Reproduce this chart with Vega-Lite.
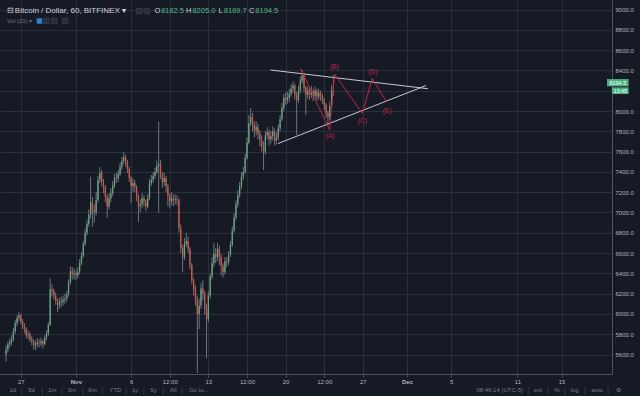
{
"$schema":"https://vega.github.io/schema/vega-lite/v6.json",
"width":612,"height":374,
"autosize":{"type":"none"},
"padding":{"left":0,"top":0,"right":28,"bottom":22},
"background":"#161a25",
"config":{"view":{"stroke":null},"font":"Liberation Sans"},
"resolve":{"axis":{"y":"independent"}},
"datasets":{
"candles":[
{"t":16,"o":5600,"h":5690,"l":5530,"c":5650},{"t":20,"o":5650,"h":5730,"l":5620,"c":5700},{"t":24,"o":5700,"h":5760,"l":5670,"c":5720},{"t":28,"o":5720,"h":5790,"l":5690,"c":5750},{"t":32,"o":5750,"h":5860,"l":5730,"c":5830},{"t":36,"o":5830,"h":5940,"l":5800,"c":5910},{"t":40,"o":5910,"h":5990,"l":5880,"c":5960},{"t":44,"o":5960,"h":6022,"l":5930,"c":5985},{"t":48,"o":5985,"h":6000,"l":5900,"c":5930},{"t":52,"o":5930,"h":5950,"l":5850,"c":5885},
{"t":56,"o":5885,"h":5910,"l":5810,"c":5855},{"t":60,"o":5855,"h":5870,"l":5760,"c":5790},{"t":64,"o":5790,"h":5840,"l":5750,"c":5800},{"t":68,"o":5800,"h":5820,"l":5720,"c":5750},{"t":72,"o":5750,"h":5780,"l":5690,"c":5725},{"t":76,"o":5725,"h":5750,"l":5650,"c":5690},{"t":80,"o":5690,"h":5740,"l":5644,"c":5700},{"t":84,"o":5700,"h":5760,"l":5670,"c":5715},{"t":88,"o":5715,"h":5750,"l":5670,"c":5710},{"t":92,"o":5710,"h":5770,"l":5680,"c":5730},
{"t":96,"o":5730,"h":5750,"l":5660,"c":5700},{"t":100,"o":5700,"h":5790,"l":5690,"c":5765},{"t":104,"o":5765,"h":5840,"l":5740,"c":5805},{"t":108,"o":5805,"h":5920,"l":5780,"c":5890},{"t":112,"o":5890,"h":6351,"l":5880,"c":6240},{"t":116,"o":6240,"h":6290,"l":6170,"c":6225},{"t":120,"o":6225,"h":6250,"l":6140,"c":6185},{"t":124,"o":6185,"h":6210,"l":6090,"c":6130},{"t":128,"o":6130,"h":6150,"l":6019,"c":6090},{"t":132,"o":6090,"h":6160,"l":6050,"c":6110},
{"t":136,"o":6110,"h":6170,"l":6070,"c":6120},{"t":140,"o":6120,"h":6180,"l":6080,"c":6140},{"t":144,"o":6140,"h":6200,"l":6100,"c":6150},{"t":148,"o":6150,"h":6230,"l":6120,"c":6190},{"t":152,"o":6190,"h":6340,"l":6170,"c":6310},{"t":156,"o":6310,"h":6470,"l":6290,"c":6420},{"t":160,"o":6420,"h":6460,"l":6340,"c":6390},{"t":164,"o":6390,"h":6450,"l":6340,"c":6400},{"t":168,"o":6400,"h":6430,"l":6330,"c":6380},{"t":172,"o":6380,"h":6460,"l":6350,"c":6410},
{"t":176,"o":6410,"h":6540,"l":6390,"c":6500},{"t":180,"o":6500,"h":6610,"l":6480,"c":6570},{"t":184,"o":6570,"h":6720,"l":6550,"c":6690},{"t":188,"o":6690,"h":6840,"l":6670,"c":6800},{"t":192,"o":6800,"h":6930,"l":6770,"c":6890},{"t":196,"o":6890,"h":7030,"l":6860,"c":6980},{"t":200,"o":6980,"h":7352,"l":6940,"c":7100},{"t":204,"o":7100,"h":7150,"l":6860,"c":7020},{"t":208,"o":7020,"h":7080,"l":6900,"c":7000},{"t":212,"o":7000,"h":7200,"l":6970,"c":7120},
{"t":216,"o":7120,"h":7360,"l":7100,"c":7320},{"t":220,"o":7320,"h":7448,"l":7290,"c":7390},{"t":224,"o":7390,"h":7420,"l":7260,"c":7300},{"t":228,"o":7300,"h":7330,"l":7190,"c":7245},{"t":232,"o":7245,"h":7270,"l":7100,"c":7150},{"t":236,"o":7150,"h":7180,"l":6945,"c":7060},{"t":240,"o":7060,"h":7190,"l":7030,"c":7140},{"t":244,"o":7140,"h":7240,"l":7100,"c":7190},{"t":248,"o":7190,"h":7310,"l":7160,"c":7270},{"t":252,"o":7270,"h":7380,"l":7240,"c":7340},
{"t":256,"o":7340,"h":7390,"l":7290,"c":7335},{"t":260,"o":7335,"h":7420,"l":7300,"c":7380},{"t":264,"o":7380,"h":7490,"l":7360,"c":7450},{"t":268,"o":7450,"h":7550,"l":7420,"c":7510},{"t":272,"o":7510,"h":7596,"l":7480,"c":7545},{"t":276,"o":7545,"h":7570,"l":7450,"c":7500},{"t":280,"o":7500,"h":7520,"l":7390,"c":7430},{"t":284,"o":7430,"h":7450,"l":7300,"c":7340},{"t":288,"o":7340,"h":7360,"l":7093,"c":7260},{"t":292,"o":7260,"h":7340,"l":7200,"c":7290},
{"t":296,"o":7290,"h":7320,"l":7200,"c":7250},{"t":300,"o":7250,"h":7270,"l":7110,"c":7160},{"t":304,"o":7160,"h":7180,"l":6906,"c":7060},{"t":308,"o":7060,"h":7130,"l":7000,"c":7080},{"t":312,"o":7080,"h":7190,"l":7040,"c":7140},{"t":316,"o":7140,"h":7170,"l":7060,"c":7110},{"t":320,"o":7110,"h":7130,"l":7010,"c":7060},{"t":324,"o":7060,"h":7180,"l":7040,"c":7140},{"t":328,"o":7140,"h":7330,"l":7120,"c":7290},{"t":332,"o":7290,"h":7370,"l":7260,"c":7320},
{"t":336,"o":7320,"h":7400,"l":7290,"c":7360},{"t":340,"o":7360,"h":7440,"l":7330,"c":7400},{"t":344,"o":7400,"h":7510,"l":7380,"c":7460},{"t":348,"o":7460,"h":7894,"l":6995,"c":7480},{"t":352,"o":7480,"h":7520,"l":7330,"c":7380},{"t":356,"o":7380,"h":7400,"l":7240,"c":7300},{"t":360,"o":7300,"h":7390,"l":7260,"c":7340},{"t":364,"o":7340,"h":7360,"l":7200,"c":7260},{"t":368,"o":7260,"h":7280,"l":7060,"c":7170},{"t":372,"o":7170,"h":7190,"l":7040,"c":7110},
{"t":376,"o":7110,"h":7200,"l":7070,"c":7140},{"t":380,"o":7140,"h":7180,"l":7060,"c":7120},{"t":384,"o":7120,"h":7180,"l":7080,"c":7130},{"t":388,"o":7130,"h":7170,"l":7070,"c":7120},{"t":392,"o":7120,"h":7140,"l":6800,"c":6850},{"t":396,"o":6850,"h":6880,"l":6600,"c":6650},{"t":400,"o":6650,"h":6680,"l":6416,"c":6560},{"t":404,"o":6560,"h":6750,"l":6530,"c":6690},{"t":408,"o":6690,"h":6800,"l":6660,"c":6720},{"t":412,"o":6720,"h":6760,"l":6600,"c":6640},
{"t":416,"o":6640,"h":6660,"l":6440,"c":6480},{"t":420,"o":6480,"h":6500,"l":6290,"c":6330},{"t":424,"o":6330,"h":6350,"l":6180,"c":6240},{"t":428,"o":6240,"h":6280,"l":6080,"c":6140},{"t":432,"o":6140,"h":6180,"l":5418,"c":6000},{"t":436,"o":6000,"h":6150,"l":5850,"c":6080},{"t":440,"o":6080,"h":6300,"l":6050,"c":6250},{"t":444,"o":6250,"h":6330,"l":6130,"c":6200},{"t":448,"o":6200,"h":6230,"l":5990,"c":6050},{"t":452,"o":6050,"h":6100,"l":5565,"c":5950},
{"t":456,"o":5950,"h":6220,"l":5920,"c":6180},{"t":460,"o":6180,"h":6400,"l":6150,"c":6370},{"t":464,"o":6370,"h":6560,"l":6340,"c":6500},{"t":468,"o":6500,"h":6700,"l":6460,"c":6590},{"t":472,"o":6590,"h":6650,"l":6500,"c":6560},{"t":476,"o":6560,"h":6700,"l":6520,"c":6640},{"t":480,"o":6640,"h":6670,"l":6480,"c":6560},{"t":484,"o":6560,"h":6590,"l":6380,"c":6470},{"t":488,"o":6470,"h":6500,"l":6360,"c":6410},{"t":492,"o":6410,"h":6560,"l":6390,"c":6520},
{"t":496,"o":6520,"h":6560,"l":6460,"c":6510},{"t":500,"o":6510,"h":6620,"l":6480,"c":6580},{"t":504,"o":6580,"h":6720,"l":6560,"c":6680},{"t":508,"o":6680,"h":6860,"l":6660,"c":6820},{"t":512,"o":6820,"h":6990,"l":6800,"c":6950},{"t":516,"o":6950,"h":7120,"l":6920,"c":7080},{"t":520,"o":7080,"h":7220,"l":7050,"c":7170},{"t":524,"o":7170,"h":7300,"l":7140,"c":7260},{"t":528,"o":7260,"h":7400,"l":7230,"c":7350},{"t":532,"o":7350,"h":7450,"l":7320,"c":7400},
{"t":536,"o":7400,"h":7580,"l":7380,"c":7540},{"t":540,"o":7540,"h":7740,"l":7520,"c":7690},{"t":544,"o":7690,"h":7960,"l":7670,"c":7880},{"t":548,"o":7880,"h":8030,"l":7850,"c":7940},{"t":552,"o":7940,"h":7980,"l":7800,"c":7870},{"t":556,"o":7870,"h":7900,"l":7740,"c":7810},{"t":560,"o":7810,"h":7900,"l":7760,"c":7840},{"t":564,"o":7840,"h":7870,"l":7720,"c":7780},{"t":568,"o":7780,"h":7810,"l":7650,"c":7720},{"t":572,"o":7720,"h":7760,"l":7600,"c":7650},
{"t":576,"o":7650,"h":7700,"l":7418,"c":7600},{"t":580,"o":7600,"h":7800,"l":7570,"c":7760},{"t":584,"o":7760,"h":7840,"l":7720,"c":7790},{"t":588,"o":7790,"h":7820,"l":7660,"c":7720},{"t":592,"o":7720,"h":7800,"l":7680,"c":7750},{"t":596,"o":7750,"h":7850,"l":7710,"c":7800},{"t":600,"o":7800,"h":7830,"l":7660,"c":7710},{"t":604,"o":7710,"h":7790,"l":7670,"c":7740},{"t":608,"o":7740,"h":7870,"l":7710,"c":7830},{"t":612,"o":7830,"h":7960,"l":7800,"c":7920},
{"t":616,"o":7920,"h":8080,"l":7900,"c":8030},{"t":620,"o":8030,"h":8170,"l":8000,"c":8130},{"t":624,"o":8130,"h":8180,"l":8060,"c":8110},{"t":628,"o":8110,"h":8190,"l":8070,"c":8130},{"t":632,"o":8130,"h":8220,"l":8090,"c":8170},{"t":636,"o":8170,"h":8260,"l":8140,"c":8220},{"t":640,"o":8220,"h":8290,"l":8180,"c":8250},{"t":644,"o":8250,"h":8270,"l":8110,"c":8160},{"t":648,"o":8160,"h":8190,"l":7763,"c":8110},{"t":652,"o":8110,"h":8250,"l":8080,"c":8200},
{"t":656,"o":8200,"h":8340,"l":8170,"c":8300},{"t":660,"o":8300,"h":8404,"l":8270,"c":8350},{"t":664,"o":8350,"h":8370,"l":8180,"c":8230},{"t":668,"o":8230,"h":8250,"l":7960,"c":8160},{"t":672,"o":8160,"h":8240,"l":8120,"c":8200},{"t":676,"o":8200,"h":8230,"l":8110,"c":8160},{"t":680,"o":8160,"h":8250,"l":8130,"c":8200},{"t":684,"o":8200,"h":8220,"l":8100,"c":8150},{"t":688,"o":8150,"h":8240,"l":8120,"c":8200},{"t":692,"o":8200,"h":8220,"l":8100,"c":8140},
{"t":696,"o":8140,"h":8220,"l":8110,"c":8180},{"t":700,"o":8180,"h":8200,"l":8100,"c":8150},{"t":704,"o":8150,"h":8170,"l":8070,"c":8110},{"t":708,"o":8110,"h":8130,"l":8010,"c":8060},{"t":712,"o":8060,"h":8080,"l":7930,"c":7980},{"t":716,"o":7980,"h":8000,"l":7860,"c":7940},{"t":720,"o":7940,"h":8090,"l":7910,"c":8050},{"t":724,"o":8050,"h":8260,"l":8030,"c":8200},{"t":728,"o":8200,"h":8354,"l":8150,"c":8194.5}
],
"tri":[{"id":"u","t":591.3,"p":8404},{"id":"u","t":933.6,"p":8219.5},{"id":"l","t":607.4,"p":7679},{"id":"l","t":929.3,"p":8251}],
"zig":[{"k":0,"t":656.5,"p":8418.6},{"k":1,"t":719.6,"p":7812.5},{"k":2,"t":730.3,"p":8364},{"k":3,"t":790.9,"p":7977},{"k":4,"t":812.3,"p":8322},{"k":5,"t":843.1,"p":8091}],
"wave":[{"t":720.7,"p":7753,"s":"(A)"},{"t":730.3,"p":8436,"s":"(B)"},{"t":790.9,"p":7904,"s":"(C)"},{"t":813.8,"p":8384,"s":"(D)"},{"t":844.4,"p":8003,"s":"(E)"}],
"hdrW":[{"t":18.1,"p":8985,"s":"⊟"},{"t":35.2,"p":8985,"s":"Bitcoin / Dollar, 60, BITFINEX ▾"}],
"hdrK":[{"t":338.9,"p":8985,"s":"O"},{"t":407.4,"p":8985,"s":"H"},{"t":478.0,"p":8985,"s":"L"},{"t":544.3,"p":8985,"s":"C"}],
"hdrG":[{"t":352.8,"p":8985,"s":"8182.5"},{"t":421.3,"p":8985,"s":"8205.0"},{"t":489.7,"p":8985,"s":"8169.7"},{"t":558.2,"p":8985,"s":"8194.5"}],
"hdrD":[{"t":18.1,"p":8887,"s":"Vol (20) ▾"}],
"iconB":[{"t":88.6,"p":8887}],
"iconD":[{"t":103.6,"p":8887},{"t":120.7,"p":8887},{"t":144.3,"p":8887},{"t":305.8,"p":8985},{"t":321.8,"p":8985}],
"tb":[{"t":30.9,"s":"1d"},{"t":71.5,"s":"5d"},{"t":116.4,"s":"1m"},{"t":159.2,"s":"3m"},{"t":204.1,"s":"6m"},{"t":253.3,"s":"YTD"},{"t":296.1,"s":"1y"},{"t":336.8,"s":"5y"},{"t":379.5,"s":"All"},{"t":435.2,"s":"Go to..."},{"t":1089.7,"s":"08:46:14 (UTC-5)"},{"t":1173.1,"s":"ext"},{"t":1213.8,"s":"%"},{"t":1252.3,"s":"log"},{"t":1301.5,"s":"auto"},{"t":1348.5,"s":"⚙"}],
"sep":[{"t":50.1},{"t":95.1},{"t":137.8},{"t":182.8},{"t":225.5},{"t":276.9},{"t":315.4},{"t":358.2},{"t":398.8},{"t":1151.7},{"t":1194.5},{"t":1230.9},{"t":1275.8},{"t":1325.0}],
"tagBox":[{"t":1322.9,"t2":1369.9,"p":8243,"p2":8315},{"t":1333.6,"t2":1369.9,"p":8167,"p2":8233}],
"tagTxt":[{"t":1346.4,"p":8279,"s":"8194.5"},{"t":1351.8,"p":8200,"s":"13:45"}]
},
"encoding":{
"x":{"field":"t","type":"quantitative","title":null,
"scale":{"domain":[13.78,1322.9],"nice":false,"zero":false},
"axis":{"values":[48,168,288,372,456,540,624,708,792,888,984,1128,1224],
"labelExpr":"['27','Nov','6','12:00','13','12:00','20','12:00','27','Dec','5','11','15'][indexof([48,168,288,372,456,540,624,708,792,888,984,1128,1224], datum.value)]",
"labelFontSize":6,"labelColor":"#b2b5be","labelPadding":1,"tickSize":3,"tickColor":"#4c525e","domainColor":"#4c525e","gridColor":"#2a2e3b","labelFlush":false,"labelOverlap":false,
"labelFontWeight":{"condition":{"test":"datum.value==168||datum.value==888","value":"bold"},"value":"normal"}}}
},
"layer":[
{"data":{"name":"candles"},"mark":{"type":"rule","strokeWidth":0.7,"color":"#9598a1"},
"encoding":{"y":{"field":"l","type":"quantitative","title":null,"scale":{"domain":[5408,9094],"nice":false,"zero":false},
"axis":{"orient":"right","values":[5600,5800,6000,6200,6400,6600,6800,7000,7200,7400,7600,7800,8000,8200,8400,8600,8800,9000],"labelExpr":"datum.value == 8200 ? '' : format(datum.value, '.1f')","labelFontSize":6,"labelColor":"#b2b5be","labelPadding":3,"tickSize":0,"domainColor":"#4c525e","gridColor":"#2a2e3b"}},
"y2":{"field":"h"}}},
{"data":{"name":"candles"},"mark":{"type":"bar","width":1.3},
"encoding":{"y":{"field":"o","type":"quantitative","title":null,"axis":null,"scale":{"domain":[5408,9094],"nice":false,"zero":false}},"y2":{"field":"c"},
"color":{"condition":{"test":"datum.c >= datum.o","value":"#6ba583"},"value":"#d75442"}}},
{"data":{"name":"tri"},"mark":{"type":"line","color":"#c8cad0","strokeWidth":1},
"encoding":{"y":{"field":"p","type":"quantitative","title":null,"axis":null},"detail":{"field":"id"}}},
{"data":{"name":"zig"},"mark":{"type":"line","color":"#c4243f","strokeWidth":1},
"encoding":{"y":{"field":"p","type":"quantitative","title":null,"axis":null},"order":{"field":"k"}}},
{"data":{"name":"wave"},"mark":{"type":"text","color":"#c4243f","fontSize":6.5,"align":"center","baseline":"middle"},
"encoding":{"y":{"field":"p","type":"quantitative","title":null,"axis":null},"text":{"field":"s"}}},
{"data":{"name":"hdrW"},"mark":{"type":"text","color":"#d1d4dc","fontSize":8,"align":"left","baseline":"middle"},
"encoding":{"y":{"field":"p","type":"quantitative","title":null,"axis":null},"text":{"field":"s"}}},
{"data":{"name":"hdrK"},"mark":{"type":"text","color":"#d1d4dc","fontSize":7.5,"align":"left","baseline":"middle"},
"encoding":{"y":{"field":"p","type":"quantitative","title":null,"axis":null},"text":{"field":"s"}}},
{"data":{"name":"hdrG"},"mark":{"type":"text","color":"#53b987","fontSize":7.5,"align":"left","baseline":"middle"},
"encoding":{"y":{"field":"p","type":"quantitative","title":null,"axis":null},"text":{"field":"s"}}},
{"data":{"name":"hdrD"},"mark":{"type":"text","color":"#6f7380","fontSize":6,"align":"left","baseline":"middle"},
"encoding":{"y":{"field":"p","type":"quantitative","title":null,"axis":null},"text":{"field":"s"}}},
{"data":{"name":"iconB"},"mark":{"type":"square","size":30,"filled":true,"color":"#2f80d0","opacity":1},
"encoding":{"y":{"field":"p","type":"quantitative","title":null,"axis":null}}},
{"data":{"name":"iconD"},"mark":{"type":"square","size":30,"filled":true,"color":"#2a2e3b","stroke":"#3e4250","strokeWidth":0.7,"opacity":1},
"encoding":{"y":{"field":"p","type":"quantitative","title":null,"axis":null}}},
{"data":{"name":"tb"},"mark":{"type":"text","color":"#787b86","fontSize":6,"align":"center","baseline":"middle"},
"encoding":{"y":{"datum":5250,"type":"quantitative","title":null,"axis":null},"text":{"field":"s"}}},
{"data":{"name":"sep"},"mark":{"type":"text","color":"#3e4250","fontSize":8,"align":"center","baseline":"middle","text":"|"},
"encoding":{"y":{"datum":5250,"type":"quantitative","title":null,"axis":null}}},
{"data":{"name":"tagBox"},"mark":{"type":"rect","color":"#4caf7d"},
"encoding":{"x2":{"field":"t2"},"y":{"field":"p","type":"quantitative","title":null,"axis":null},"y2":{"field":"p2"}}},
{"data":{"name":"tagTxt"},"mark":{"type":"text","color":"#ffffff","fontSize":5.5,"align":"center","baseline":"middle"},
"encoding":{"y":{"field":"p","type":"quantitative","title":null,"axis":null},"text":{"field":"s"}}}
]
}
